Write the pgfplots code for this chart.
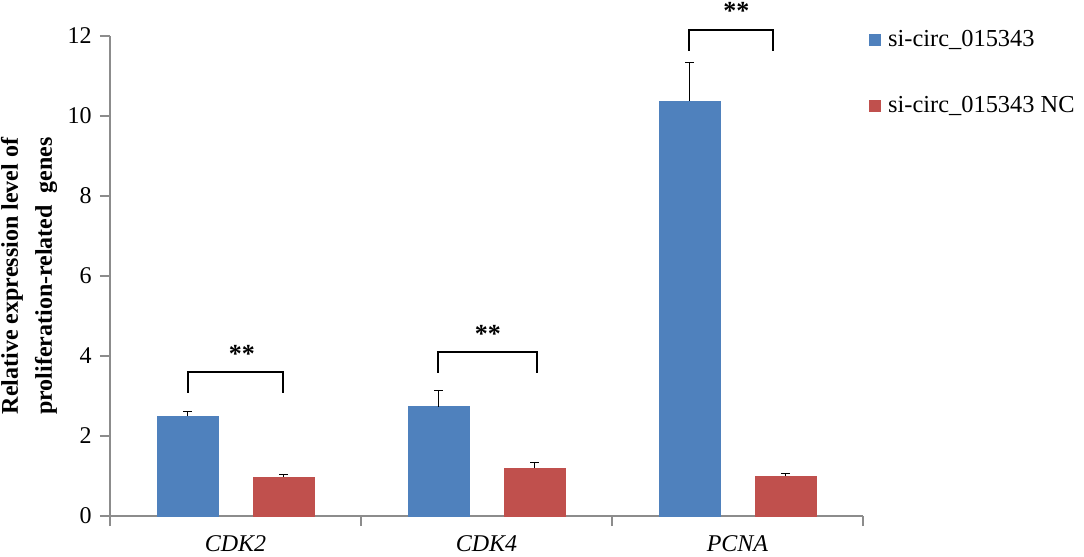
\documentclass[border=0pt]{standalone}
\usepackage{fontspec}
\setmainfont{Liberation Serif}
\usepackage{pgfplots}
\pgfplotsset{compat=1.18}
\definecolor{cblue}{HTML}{4F81BD}
\definecolor{cred}{HTML}{C0504D}
\definecolor{axgray}{HTML}{8C8C8C}
\begin{document}
\fontsize{12}{14.4}\selectfont
\begin{tikzpicture}
\begin{axis}[
  name=ax,
  scale only axis, width=376.5pt, height=240pt,
  ybar=17.5pt, bar width=30.5pt,
  xmin=-0.5, xmax=2.5, ymin=0, ymax=12,
  ytick={0,2,...,12},
  xtick={-0.5,0.5,1.5,2.5}, xticklabels={,,,},
  extra x ticks={0,1,2},
  extra x tick labels={\textit{CDK2},\textit{CDK4},\textit{PCNA}},
  extra x tick style={major tick length=0pt, tick label style={yshift=-5.5pt}},
  axis x line*=bottom, axis y line*=left,
  axis line style={axgray, line width=0.6pt},
  tick style={axgray, line width=0.6pt},
  tick align=outside, major tick length=5pt,
  /pgf/number format/assume math mode=true,
  tick label style={font=\fontsize{12}{14.4}\selectfont},
  clip=false,
  ylabel={Relative expression level of\\proliferation-related\ \ genes},
  ylabel style={align=center, font=\fontsize{12}{17}\selectfont\bfseries},
  ylabel shift=-3pt,
  error bars/y dir=plus, error bars/y explicit,
  error bars/error bar style={black, line width=0.5pt},
  error bars/error mark options={black, rotate=90, mark size=2.2pt, line width=0.5pt},
  legend style={at={(rel axis cs:1,1)}, anchor=north west, xshift=3pt, yshift=3pt,
    draw=none, fill=none, inner sep=0pt, row sep=23pt,
    font=\fontsize{12.2}{14.4}\selectfont, nodes={inner sep=0pt},
    /tikz/every odd column/.append style={column sep=3.5pt}},
  legend cell align=left,
]
\addplot[fill=cblue, draw=cblue,
  legend image code/.code={\fill[cblue] (0pt,-2.75pt) rectangle (5.5pt,2.75pt);}]
  coordinates {(0,2.5) +- (0,0.12) (1,2.73) +- (0,0.40) (2,10.37) +- (0,0.96)};
\addlegendentry{si-circ\_015343}
\addplot[fill=cred, draw=cred,
  legend image code/.code={\fill[cred] (0pt,-2.75pt) rectangle (5.5pt,2.75pt);}]
  coordinates {(0,0.97) +- (0,0.08) (1,1.2) +- (0,0.13) (2,1.0) +- (0,0.07)};
\addlegendentry{si-circ\_015343 NC}
% significance brackets
\draw[black, line width=1pt] (axis cs:-0.19,3.08) -- (axis cs:-0.19,3.6) -- (axis cs:0.19,3.6) -- (axis cs:0.19,3.08);
\node[anchor=base, inner sep=0pt, yshift=5pt, font=\fontsize{13}{15}\selectfont\bfseries] at (axis cs:0.025,3.6) {**};
\draw[black, line width=1pt] (axis cs:0.805,3.58) -- (axis cs:0.805,4.1) -- (axis cs:1.2,4.1) -- (axis cs:1.2,3.58);
\node[anchor=base, inner sep=0pt, yshift=5pt, font=\fontsize{13}{15}\selectfont\bfseries] at (axis cs:1.005,4.1) {**};
\draw[black, line width=1pt] (axis cs:1.805,11.63) -- (axis cs:1.805,12.15) -- (axis cs:2.14,12.15) -- (axis cs:2.14,11.63);
\node[anchor=base, inner sep=0pt, yshift=5pt, font=\fontsize{13}{15}\selectfont\bfseries] at (axis cs:1.995,12.15) {**};
\end{axis}
\pgfresetboundingbox
\path[use as bounding box] ([shift={(-55pt,-20pt)}]ax.south west) rectangle ([shift={(110.5pt,18pt)}]ax.north east);
\end{tikzpicture}
\end{document}
